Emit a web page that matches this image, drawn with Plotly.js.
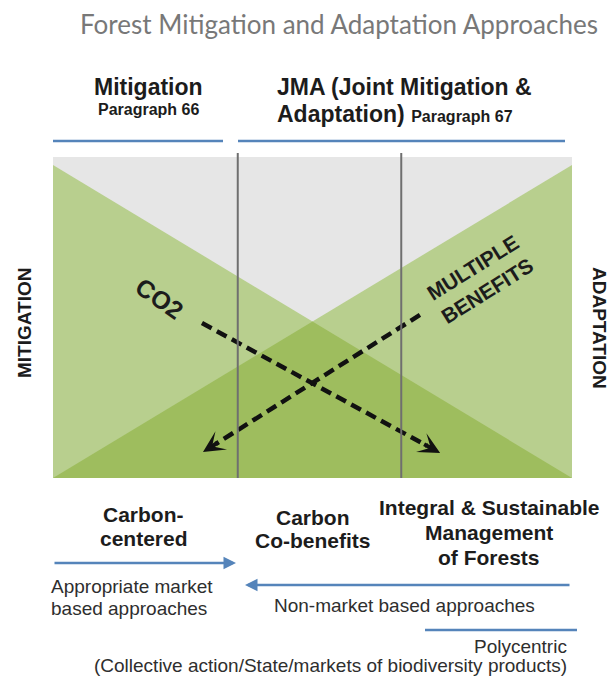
<!DOCTYPE html>
<html><head><meta charset="utf-8">
<script src="https://cdn.plot.ly/plotly-3.0.1.min.js"></script>
<style>html,body{margin:0;padding:0;background:#fff;}#chart{width:611px;height:679px;}</style>
</head><body><div id="chart"></div>
<script>
// ---------------- data ----------------
const stageX = [0, 1];                 // position along the mitigation -> adaptation gradient
const mitigationShare = [1, 0];        // emphasis on mitigation
const adaptationShare = [0, 1];        // emphasis on adaptation
const stageBounds = [0.356, 0.671];    // boundaries between the three approaches
const headerTitles = ["Mitigation", "JMA (Joint Mitigation &", "Adaptation)"];
const headerRefs = ["Paragraph 66", "Paragraph 67"];
const categoryLines = [["Carbon-", "centered"], ["Carbon", "Co-benefits"], ["Integral & Sustainable", "Management", "of Forests"]];
const sideLabels = ["MITIGATION", "ADAPTATION"];
const flowLabels = ["CO2", "MULTIPLE<br>BENEFITS"];
const approachTexts = [["Appropriate market", "based approaches"], ["Non-market based approaches"], ["Polycentric", "(Collective action/State/markets of biodiversity products)"]];
const chartTitle = "Forest Mitigation and Adaptation Approaches";

// ---------------- layout helpers ----------------
const W = 611, H = 679;
const BOX = {l: 53, r: 572, t: 157, b: 478, top1: 165};
const UX = BOX.r - BOX.l, UY = BOX.b - BOX.top1;
const px = v => v / W;
const py = v => 1 - v / H;
const SANS = "Liberation Sans, Arial, sans-serif";
const INK = "#1c1c1c", SOFT = "#2e2e2e", BLUE = "#5584ba";

function txt(text, x, yc, size, o) {
  o = o || {};
  return {xref: 'paper', yref: 'paper', x: px(x), y: py(yc), text: text, showarrow: false,
    font: {family: SANS, size: size, color: o.color || INK}, xanchor: o.xa || 'center', yanchor: 'middle',
    textangle: o.angle || 0, align: o.align || 'center'};
}
function bold(t) { return '<b>' + t + '</b>'; }

// crossing of the two shares
const mSlope = mitigationShare[1] - mitigationShare[0];
const aSlope = adaptationShare[1] - adaptationShare[0];
const xc = (mitigationShare[0] - adaptationShare[0]) / (aSlope - mSlope);
const yc = mitigationShare[0] + mSlope * xc;

const traces = [
  {x: stageX, y: mitigationShare, mode: 'lines', fill: 'tozeroy', fillcolor: '#b8cf8e', line: {width: 0, color: '#b8cf8e'}, hoverinfo: 'skip'},
  {x: stageX, y: adaptationShare, mode: 'lines', fill: 'tozeroy', fillcolor: '#b8cf8e', line: {width: 0, color: '#b8cf8e'}, hoverinfo: 'skip'},
  {x: [stageX[0], xc, stageX[1]], y: [0, yc, 0], mode: 'lines', fill: 'tozeroy', fillcolor: '#9ebd5e', line: {width: 0, color: '#9ebd5e'}, hoverinfo: 'skip'}
];

// dashed flow arrows (positions in box units)
const flows = [
  {s: [0.287, 0.495], t: [0.746, 0.080]},
  {s: [0.707, 0.521], t: [0.289, 0.083]}
];
const arrowAnn = [];
flows.forEach(f => {
  const dxp = (f.t[0] - f.s[0]) * UX, dyp = -(f.t[1] - f.s[1]) * UY;
  const len = Math.sqrt(dxp * dxp + dyp * dyp);
  const k = 1 - 15 / len;
  traces.push({x: [f.s[0], f.s[0] + (f.t[0] - f.s[0]) * k], y: [f.s[1], f.s[1] + (f.t[1] - f.s[1]) * k],
    mode: 'lines', line: {color: '#111', width: 4.5, dash: '11px,6px'}, hoverinfo: 'skip'});
  arrowAnn.push({xref: 'x', yref: 'y', x: f.t[0], y: f.t[1], axref: 'pixel', ayref: 'pixel',
    ax: -dxp / len * 20, ay: -dyp / len * 20, showarrow: true, arrowhead: 3, arrowsize: 0.9,
    arrowwidth: 4, arrowcolor: '#111', text: '', standoff: 0});
});

const shapes = [];
stageBounds.forEach(b => shapes.push({type: 'line', xref: 'x', yref: 'paper', x0: b, x1: b, y0: py(BOX.b), y1: py(153), line: {color: '#6f6f6f', width: 2}}));
[[53, 223, 141], [238, 565, 141], [425, 577, 630]].forEach(l => shapes.push({type: 'line', xref: 'paper', yref: 'paper', x0: px(l[0]), x1: px(l[1]), y0: py(l[2]), y1: py(l[2]), line: {color: BLUE, width: 2.5}}));

const ann = [
  txt(bold(headerTitles[0]), 148, 87, 23),
  txt(bold(headerRefs[0]), 148, 109.4, 16),
  txt(bold(headerTitles[1]), 275, 87, 23, {xa: 'left'}),
  txt(bold(headerTitles[2]) + ' <span style="font-size:16px">' + bold(headerRefs[1]) + '</span>', 275, 114, 23, {xa: 'left'}),
  txt(bold(sideLabels[0]), 24, 323, 19, {angle: -90}),
  txt(bold(sideLabels[1]), 600, 328, 19, {angle: 90}),
  txt(bold(flowLabels[0]), 159, 298, 25, {angle: 35}),
  txt(bold(flowLabels[1]), 480, 279, 21, {angle: -32}),
  txt(bold(categoryLines[0][0]), 143, 514.6, 21),
  txt(bold(categoryLines[0][1]), 144, 538.6, 21),
  txt(bold(categoryLines[1][0]), 313, 517.6, 21),
  txt(bold(categoryLines[1][1]), 313, 540.6, 21),
  txt(bold(categoryLines[2][0]), 489, 507.6, 21),
  txt(bold(categoryLines[2][1]), 489, 532.6, 21),
  txt(bold(categoryLines[2][2]), 489, 557.6, 21),
  txt(approachTexts[0][0], 49, 586.3, 19, {xa: 'left', color: SOFT}),
  txt(approachTexts[0][1], 49, 608.3, 19, {xa: 'left', color: SOFT}),
  txt(approachTexts[1][0], 404.5, 605.3, 19, {color: SOFT}),
  txt(approachTexts[2][0], 569, 646.3, 19, {xa: 'right', color: SOFT}),
  txt(approachTexts[2][1], 330, 665.3, 19, {color: SOFT}),
  // blue approach arrows
  {xref: 'paper', yref: 'paper', x: px(236), y: py(563), axref: 'pixel', ayref: 'pixel', ax: -183, ay: 0,
    showarrow: true, arrowhead: 2, arrowsize: 1, arrowwidth: 2.5, arrowcolor: BLUE, text: '', standoff: 0},
  {xref: 'paper', yref: 'paper', x: px(245), y: py(585), axref: 'pixel', ayref: 'pixel', ax: 326, ay: 0,
    showarrow: true, arrowhead: 2, arrowsize: 1, arrowwidth: 2.5, arrowcolor: BLUE, text: '', standoff: 0}
].concat(arrowAnn);

const layout = {
  width: W, height: H, margin: {l: 0, r: 0, t: 0, b: 0, pad: 0},
  paper_bgcolor: '#ffffff', plot_bgcolor: '#e6e6e6', showlegend: false,
  title: {text: chartTitle, x: px(339), xanchor: 'center', xref: 'paper', y: py(25), yanchor: 'middle', yref: 'paper',
    font: {family: 'Lato, Open Sans, sans-serif', size: 26, color: '#787878'}},
  xaxis: {domain: [px(BOX.l), px(BOX.r)], range: [0, 1], visible: false, fixedrange: true},
  yaxis: {domain: [py(BOX.b), py(BOX.t)], range: [0, (BOX.b - BOX.t) / UY], visible: false, fixedrange: true},
  shapes: shapes, annotations: ann
};
Plotly.newPlot('chart', traces, layout, {displayModeBar: false, staticPlot: true});
</script></body></html>
